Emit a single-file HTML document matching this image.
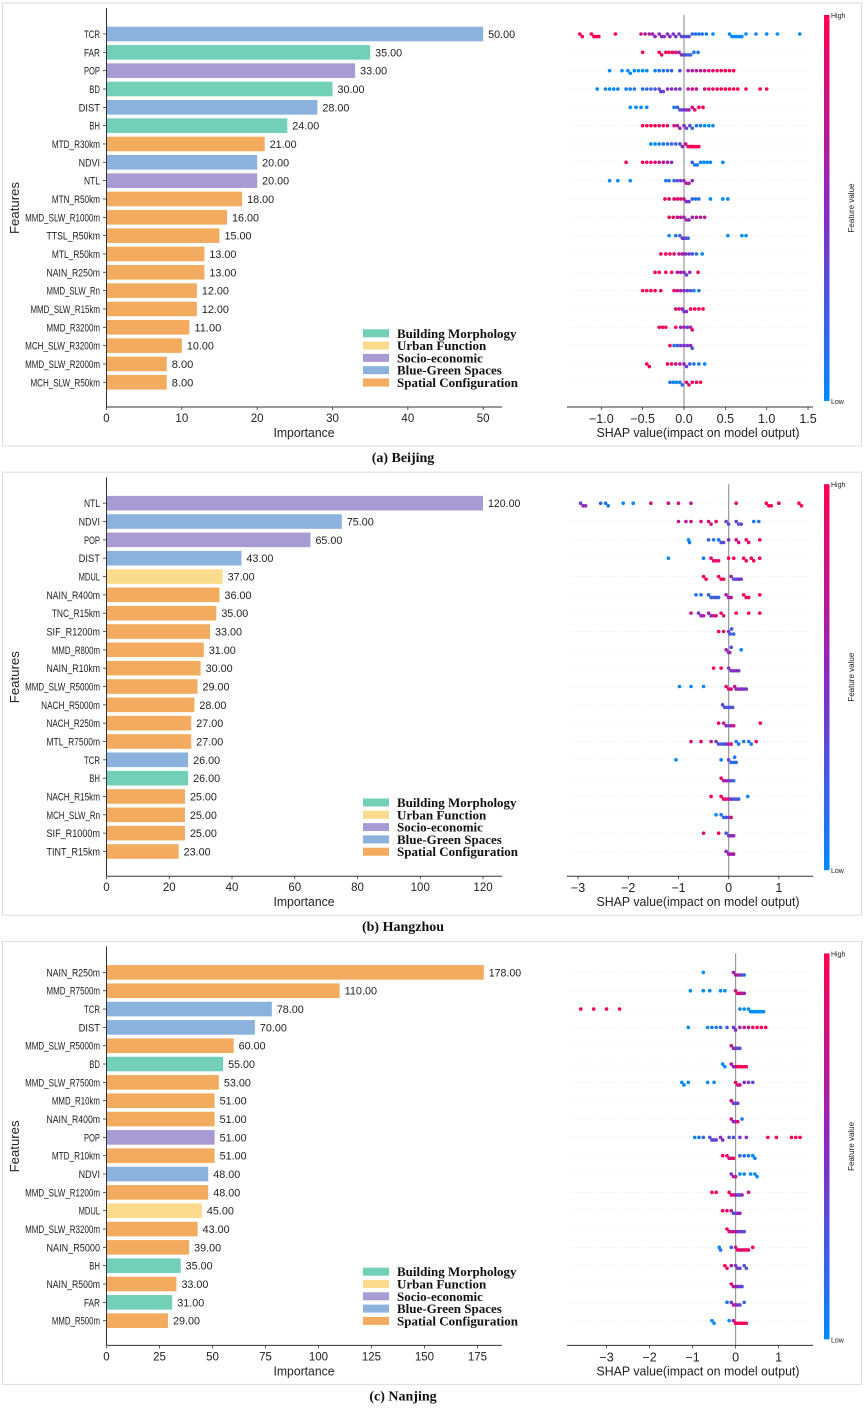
<!DOCTYPE html>
<html><head><meta charset="utf-8">
<style>
html,body{margin:0;padding:0;background:#fff;}
svg{display:block;}
.tk{font-family:"Liberation Sans",sans-serif;fill:#222;}
.cap{font-family:"Liberation Serif",serif;font-weight:bold;font-size:14px;fill:#111;}
.leg{font-family:"Liberation Serif",serif;font-weight:bold;font-size:13px;fill:#111;}
</style></head>
<body>
<svg id="fig" width="865" height="1408" viewBox="0 0 865 1408" xmlns="http://www.w3.org/2000/svg">
<defs>
<linearGradient id="cbar" x1="0" y1="1" x2="0" y2="0">
<stop offset="0" stop-color="rgb(0,138,250)"/>
<stop offset="0.5" stop-color="rgb(138,40,195)"/>
<stop offset="1" stop-color="rgb(255,0,82)"/>
</linearGradient>
</defs>
</svg>
<script>
// ---------- data ----------
const bjFeatures=["TCR","FAR","POP","BD","DIST","BH","MTD_R30km","NDVI","NTL","MTN_R50km","MMD_SLW_R1000m","TTSL_R50km","MTL_R50km","NAIN_R250m","MMD_SLW_Rn","MMD_SLW_R15km","MMD_R3200m","MCH_SLW_R3200m","MMD_SLW_R2000m","MCH_SLW_R50km"];
const bjValues=[50,35,33,30,28,24,21,20,20,18,16,15,13,13,12,12,11,10,8,8];
const bjCats=["G","B","S","B","G","B","P","G","S","P","P","P","P","P","P","P","P","P","P","P"];
const bjShap=[
"-1.26:1 -1.23:1 -1.12:1 -1.09:1 -1.06:1 -1.03:1 -0.83:1 -0.52:.8 -0.47:.7 -0.42:.6 -0.38:.6 -0.35:.5 -0.3:.5 -0.27:.5 -0.24:.5 -0.2:.45 -0.17:.5 -0.13:.45 -0.1:.4 -0.06:.4 -0.03:.35 0:.35 0.03:.3 0.06:.3 0.1:.2 0.14:.15 0.18:.1 0.22:.1 0.27:.05 0.35:0 0.55:0 0.58:0 0.61:0 0.64:0 0.67:0 0.7:0 0.75:0 0.87:0 1.0:0 1.13:0 1.4:0",
"-0.5:1 -0.3:1 -0.27:1 -0.22:1 -0.18:1 -0.14:.9 -0.1:.8 -0.06:.6 -0.03:.5 0:.4 0.02:.3 0.05:.2 0.08:.2 0.12:.1 0.17:.1",
"-0.9:0 -0.75:0 -0.68:0 -0.65:0 -0.6:0 -0.55:0 -0.5:0 -0.45:0 -0.35:.05 -0.3:.1 -0.25:.1 -0.2:.15 -0.15:.2 -0.05:.3 0.05:.6 0.1:.6 0.15:.7 0.2:.75 0.25:.8 0.3:.8 0.35:.9 0.4:.9 0.45:.95 0.5:1 0.55:1 0.6:1",
"-1.05:0 -0.95:0 -0.9:0 -0.85:0 -0.8:.05 -0.7:.05 -0.65:.1 -0.6:.1 -0.5:.15 -0.45:.2 -0.4:.2 -0.35:.25 -0.3:.3 -0.28:.4 -0.25:.4 -0.2:.45 -0.15:.5 -0.1:.5 -0.05:.4 0.05:.7 0.1:.75 0.15:.8 0.25:.85 0.3:.9 0.35:.9 0.4:.95 0.45:1 0.5:1 0.55:1 0.6:1 0.65:1 0.75:1 0.92:1 1.0:1",
"-0.65:0 -0.58:0 -0.52:0 -0.45:0 -0.12:.1 -0.08:.2 -0.05:.3 -0.02:.35 0:.4 0.03:.5 0.06:.6 0.1:.8 0.13:.9 0.18:1 0.23:1",
"-0.5:1 -0.45:1 -0.4:1 -0.35:1 -0.3:1 -0.25:.95 -0.2:.9 -0.12:.8 -0.08:.7 -0.05:.6 0:.5 0.03:.4 0.07:.3 0.1:.2 0.15:.1 0.2:.1 0.25:0 0.3:0 0.35:0",
"-0.4:0 -0.35:0 -0.3:.05 -0.25:.1 -0.2:.1 -0.15:.2 -0.1:.2 -0.05:.3 -0.02:.5 0.02:.8 0.05:.9 0.08:1 0.1:1 0.12:1 0.15:1 0.18:1",
"-0.7:1 -0.5:1 -0.45:.9 -0.4:.9 -0.35:.8 -0.3:.8 -0.25:.7 -0.2:.6 -0.15:.5 0.1:.2 0.13:.1 0.16:.1 0.2:.05 0.24:0 0.28:0 0.32:0 0.47:0",
"-0.9:0 -0.8:0 -0.65:0 -0.22:.1 -0.18:.1 -0.12:.2 -0.08:.3 -0.04:.4 0:.6 0.03:.7 0.06:.6 0.1:.5",
"-0.23:1 -0.18:1 -0.12:.9 -0.08:.9 -0.04:.8 0:.8 0.03:.5 0.06:.4 0.1:.2 0.14:.1 0.18:.1 0.32:0 0.47:0 0.53:0",
"-0.18:1 -0.13:.9 -0.08:.8 -0.04:.7 0:.6 0.03:.6 0.06:.5 0.1:.6 0.15:.7 0.2:.7 0.25:.7",
"-0.18:0 -0.1:.1 -0.05:.2 -0.02:.4 0:.5 0.02:.3 0.05:.2 0.53:0 0.7:0 0.75:0",
"-0.28:1 -0.22:1 -0.17:.9 -0.12:.9 -0.06:.8 -0.02:.6 0.02:.5 0.06:.4 0.1:.3 0.15:.1 0.22:0",
"-0.35:1 -0.3:1 -0.22:1 -0.15:.9 -0.08:.7 -0.04:.6 0:.5 0.03:.4 0.07:.5 0.17:1",
"-0.5:1 -0.45:1 -0.4:1 -0.35:1 -0.28:1 -0.12:.9 -0.08:.8 -0.04:.6 0:.5 0.04:.4 0.08:.3 0.12:.1 0.18:.1",
"-0.1:.9 -0.06:.8 -0.02:.5 0:.4 0.03:.5 0.08:1 0.13:1 0.18:1 0.23:1",
"-0.3:1 -0.26:1 -0.22:1 -0.1:1 -0.04:.6 0:.5 0.04:.4 0.08:.7 0.1:.8",
"-0.17:1 -0.12:.1 -0.08:.2 -0.04:.4 0:.5 0.04:.4 0.08:.5 0.1:.3",
"-0.45:1 -0.42:1 -0.2:1 -0.15:.9 -0.1:.8 -0.05:.7 0:.5 0.03:.4 0.07:.2 0.12:.1 0.18:.1 0.25:0",
"-0.17:.1 -0.13:.1 -0.09:0 -0.05:.1 -0.02:.2 0.03:.8 0.06:.9 0.1:.9 0.15:1 0.2:1"];

const hzFeatures=["NTL","NDVI","POP","DIST","MDUL","NAIN_R400m","TNC_R15km","SIF_R1200m","MMD_R800m","NAIN_R10km","MMD_SLW_R5000m","NACH_R5000m","NACH_R250m","MTL_R7500m","TCR","BH","NACH_R15km","MCH_SLW_Rn","SIF_R1000m","TINT_R15km"];
const hzValues=[120,75,65,43,37,36,35,33,31,30,29,28,27,27,26,26,25,25,25,23];
const hzCats=["S","G","S","G","U","P","P","P","P","P","P","P","P","P","G","B","P","P","P","P"];
const hzShap=[
"-2.95:.4 -2.9:.6 -2.85:.5 -2.55:.2 -2.45:.1 -2.4:.1 -2.1:0 -1.9:0 -1.55:.8 -1.2:.8 -1.0:.8 -0.75:.7 0.15:.9 0.75:1 0.8:1 0.85:1 1.0:1 1.4:1 1.45:1",
"-1:.7 -0.85:.7 -0.75:.7 -0.55:.8 -0.4:.8 -0.35:.8 -0.25:.9 -0.05:.4 0:.3 0.15:.4 0.2:.3 0.25:.4 0.5:.1 0.6:.1",
"-0.8:0 -0.78:.1 -0.4:.2 -0.3:.1 -0.2:.1 -0.15:.3 -0.1:.3 0:.5 0.15:.8 0.2:.8 0.35:.9 0.4:.9 0.62:1",
"-1.2:0 -0.5:.1 -0.35:.9 -0.3:1 -0.25:.9 -0.2:.9 0:1 0.1:1 0.3:1 0.35:1 0.45:1 0.5:1 0.62:1",
"-0.5:1 -0.45:1 -0.2:1 -0.15:.9 -0.1:1 0.05:.6 0.1:.3 0.15:.3 0.2:.5 0.25:.4",
"-0.65:.1 -0.55:.1 -0.4:.2 -0.35:.2 -0.3:.2 -0.25:.3 -0.2:.2 -0.05:.6 0:.6 0.05:.7 0.3:1 0.35:1 0.4:1 0.62:1",
"-0.75:.8 -0.6:.4 -0.55:.5 -0.5:.7 -0.4:.6 -0.35:.5 -0.3:.7 -0.25:.9 -0.15:.9 -0.1:.9 0.15:1 0.4:1 0.62:1",
"-0.2:1 -0.1:.9 0:.4 0.03:.3 0.06:.3 0.1:.2",
"-0.05:.6 0:.5 0.02:.5 0.05:.3 0.25:0",
"-0.3:1 -0.15:.9 0:.5 0.05:.5 0.1:.4 0.15:.6 0.2:.4",
"-0.98:0 -0.75:0 -0.5:0 -0.05:.9 0:.9 0.05:.8 0.12:.7 0.15:.6 0.2:.5 0.25:.5 0.3:.4 0.35:.5",
"-0.12:.3 -0.08:.3 -0.04:.2 0:.3 0.04:.3 0.08:.3",
"-0.2:.9 -0.1:.7 -0.05:.5 0:.4 0.05:.6 0.1:.8 0.63:1",
"-0.75:.8 -0.55:.9 -0.35:.8 -0.25:.4 -0.2:.3 -0.15:.2 -0.1:.3 -0.05:.4 0:.5 0.05:.9 0.15:.1 0.2:.1 0.3:.1 0.4:.1 0.45:.1 0.55:.9",
"-1.05:0 -0.15:0 0:.3 0.05:.2 0.1:.1 0.15:.2 0.12:.1",
"-0.15:.9 -0.1:.7 -0.05:.6 0:.5 0.05:.3 0.1:.2",
"-0.35:1 -0.15:1 -0.1:1 -0.05:.9 0:.7 0.05:.5 0.1:.2 0.15:.3 0.2:.2 0.38:0",
"-0.25:0 -0.15:.1 -0.1:.2 -0.05:.2 0:.4 0.05:.8",
"-0.5:.8 -0.2:1 -0.05:.3 0:.2 0.03:.4 0.07:.8 0.1:.5",
"-0.05:.5 0:.6 0.03:.6 0.07:.7 0.1:.6"];

const njFeatures=["NAIN_R250m","MMD_R7500m","TCR","DIST","MMD_SLW_R5000m","BD","MMD_SLW_R7500m","MMD_R10km","NAIN_R400m","POP","MTD_R10km","NDVI","MMD_SLW_R1200m","MDUL","MMD_SLW_R3200m","NAIN_R5000","BH","NAIN_R500m","FAR","MMD_R500m"];
const njValues=[178,110,78,70,60,55,53,51,51,51,51,48,48,45,43,39,35,33,31,29];
const njCats=["P","P","G","G","P","B","P","P","P","S","P","G","P","U","P","P","B","P","B","P"];
const njShap=[
"-0.75:0 -0.05:.6 0:.6 0.05:.7 0.1:.5 0.15:.3 0.2:.2",
"-1.05:0 -0.75:0 -0.6:0 -0.35:0 -0.25:0 0:.8 0.05:.9 0.1:.8 0.15:.7 0.2:.6",
"-3.6:1 -3.3:1 -3:1 -2.7:1 0.1:0 0.2:0 0.3:0 0.35:0 0.4:0 0.45:0 0.5:0 0.55:0 0.6:0 0.65:0",
"-1.1:0 -0.65:0 -0.55:.1 -0.45:.1 -0.35:.2 -0.2:.2 -0.05:.4 0:.5 0.1:.6 0.2:.7 0.3:.8 0.4:.9 0.5:1 0.6:1 0.7:1",
"-0.1:.7 -0.05:.6 0:.4 0.05:.3 0.1:.3",
"-0.3:0 -0.25:0 -0.1:.7 -0.05:.6 0:.5 0.05:1 0.1:1 0.15:1 0.2:.9 0.25:1",
"-1.25:0 -1.2:0 -1.1:0 -0.65:0 -0.5:0 0:.9 0.05:.8 0.1:.8 0.2:.5 0.3:.4 0.4:.3",
"-0.1:.8 -0.05:.6 0:.3 0.05:.4",
"-0.1:.8 -0.05:.6 0:.5 0.05:.9 0.15:.1",
"-0.95:0 -0.85:.1 -0.75:.2 -0.6:.3 -0.55:.3 -0.5:.4 -0.45:.4 -0.35:.5 -0.3:.5 -0.15:.3 -0.05:.3 0.1:.4 0.25:.5 0.75:1 0.95:1 1.3:1 1.4:1 1.5:1",
"-0.3:1 -0.2:.9 -0.15:.8 -0.1:.7 -0.05:1 0.1:.2 0.2:.1 0.3:.1 0.4:0 0.45:0",
"-0.1:.5 -0.05:.6 0:.8 0.1:0 0.2:0 0.35:0 0.45:0 0.5:0",
"-0.55:1 -0.45:1 -0.15:1 -0.1:.9 -0.05:.8 0:.6 0.05:.4 0.1:.3 0.15:.6 0.3:.8",
"-0.3:1 -0.2:.9 -0.1:.7 -0.05:.4 0:.3 0.05:.5 0.1:.6",
"-0.2:1 -0.15:.9 -0.1:.7 -0.05:.8 0:.6 0.05:.5 0.1:.4 0.15:.4 0.2:.3",
"-0.38:0 -0.35:.1 -0.1:.2 0:.8 0.05:.9 0.1:.9 0.15:.9 0.2:.8 0.25:1 0.3:.9 0.4:1",
"-0.25:1 -0.2:.9 -0.1:.7 0:.4 0.05:.5 0.1:.3 0.2:.3 0.25:.3",
"-0.1:.8 -0.05:.7 0:.6 0.05:.5 0.1:.4 0.15:.3",
"-0.2:.1 -0.1:.4 -0.05:.6 0:.7 0.05:.5 0.1:.3 0.2:.2",
"-0.55:0 -0.5:0 -0.15:0 -0.05:.7 0:.9 0.05:.9 0.1:1 0.15:1 0.2:1 0.25:.9"];

const bjBarTicks=[0,10,20,30,40,50];
const hzBarTicks=[0,20,40,60,80,100,120];
const njBarTicks=[0,25,50,75,100,125,150,175];
const bjShapTicks=["-1.0","-0.5","0.0","0.5","1.0","1.5"];
const hzShapTicks=["-3","-2","-1","0","1"];
const njShapTicks=["-3","-2","-1","0","1"];
const captions=["(a) Beijing","(b) Hangzhou","(c) Nanjing"];
const legendNames=["Building Morphology","Urban Function","Socio-economic","Blue-Green Spaces","Spatial Configuration"];

// ---------- drawing ----------
const svg=document.getElementById('fig');
const NS='http://www.w3.org/2000/svg';
const catColor={B:'#72cfb8',U:'#fcdc8c',S:'#a99ad3',G:'#8ab2dd',P:'#f2ab5f'};
const legCats=['B','U','S','G','P'];
function mk(tag,attrs,parent){const e=document.createElementNS(NS,tag);for(const k in attrs)e.setAttribute(k,attrs[k]);(parent||svg).appendChild(e);return e;}
function shapColor(c){
  const b=[0,138,250],m=[138,40,195],r=[255,0,82];let a,z,t;
  if(c<0.5){a=b;z=m;t=c/0.5;}else{a=m;z=r;t=(c-0.5)/0.5;}
  return 'rgb('+a.map((v,i)=>Math.round(v+(z[i]-v)*t)).join(',')+')';
}
const panels=[
 {f:bjFeatures,v:bjValues,c:bjCats,s:bjShap,bt:bjBarTicks,bmax:52.5,st:bjShapTicks,smin:-1.415,smax:1.56},
 {f:hzFeatures,v:hzValues,c:hzCats,s:hzShap,bt:hzBarTicks,bmax:126.05,st:hzShapTicks,smin:-3.22,smax:1.68},
 {f:njFeatures,v:njValues,c:njCats,s:njShap,bt:njBarTicks,bmax:186.6,st:njShapTicks,smin:-3.92,smax:1.8}
];
panels.forEach((p,pi)=>{
  const oy=pi*469.2;
  const g=mk('g',{transform:'translate(0,'+oy+')'});
  
  
  const box=mk('rect',{x:2.5,y:3,width:859,height:443,fill:'none',stroke:'#dcdcdc','stroke-width':1},g);
  
  
  const X0=106.5,X1=502,AY=407;
  const bx=v=>X0+(v/p.bmax)*(X1-X0);
  const rowY=i=>34+i*18.33;
  p.v.forEach((val,i)=>{
    const y=rowY(i);
    const r=mk('rect',{x:X0,y:y-7.3,width:bx(val)-X0,height:14.6,fill:catColor[p.c[i]]},g);
    
    
    const t=mk('text',{x:bx(val)+5,y:y+4,class:'tk',style:'font-size:11px',textLength:val.toFixed(2).length*5.4,lengthAdjust:'spacingAndGlyphs'},g);
    t.textContent=val.toFixed(2);
    
    
    const l=mk('text',{x:100,y:y+4,class:'tk',style:'font-size:11px','text-anchor':'end',textLength:p.f[i].length*5.35,lengthAdjust:'spacingAndGlyphs'},g);
    l.textContent=p.f[i];
    
    
    mk('line',{x1:103,x2:106.5,y1:y,y2:y,stroke:'#333','stroke-width':0.8},g);
  });
  mk('line',{x1:X0,x2:X0,y1:8,y2:AY,stroke:'#333','stroke-width':1},g);
  mk('line',{x1:X0,x2:X1,y1:AY,y2:AY,stroke:'#333','stroke-width':1},g);
  p.bt.forEach(v=>{
    mk('line',{x1:bx(v),x2:bx(v),y1:AY,y2:AY+3,stroke:'#333','stroke-width':0.8},g);
    const t=mk('text',{x:bx(v),y:AY+15,class:'tk',style:'font-size:11.5px','text-anchor':'middle'},g);
    t.textContent=String(v);
    
    
  });
  const xt=mk('text',{x:304,y:AY+30,class:'tk',style:'font-size:13px','text-anchor':'middle',textLength:61,lengthAdjust:'spacingAndGlyphs'},g);
  xt.textContent='Importance';
  
  
  const yt=mk('text',{x:0,y:0,class:'tk',style:'font-size:13px','text-anchor':'middle',transform:'translate(19,208) rotate(-90)',textLength:52,lengthAdjust:'spacingAndGlyphs'},g);
  yt.textContent='Features';
  
  
  const lg=mk('g',{},g);
  
  
  legCats.forEach((c,k)=>{
    const y=333.3+k*12.3;
    const sw=mk('rect',{x:363,y:y-4,width:26,height:8,fill:catColor[c]},lg);
    
    
    const t=mk('text',{x:397,y:y+4.5,class:'leg'},lg);
    t.textContent=legendNames[k];
    
    
  });
  const S0=567,S1=813;
  const sx=v=>S0+(v-p.smin)/(p.smax-p.smin)*(S1-S0);
  p.f.forEach((f,i)=>{mk('line',{x1:S0+3,x2:S1-5,y1:rowY(i),y2:rowY(i),stroke:'#e6e6e6','stroke-width':0.7,'stroke-dasharray':'1,2'},g);});
  mk('line',{x1:sx(0),x2:sx(0),y1:15,y2:AY,stroke:'#999','stroke-width':1.2},g);
  mk('line',{x1:S0,x2:S1,y1:AY,y2:AY,stroke:'#333','stroke-width':1},g);
  p.st.forEach(s=>{
    const v=parseFloat(s);
    mk('line',{x1:sx(v),x2:sx(v),y1:AY,y2:AY+3,stroke:'#333','stroke-width':0.8},g);
    const t=mk('text',{x:sx(v),y:AY+16,class:'tk',style:'font-size:12.5px','text-anchor':'middle'},g);
    t.textContent=s.replace('-','\u2212');
    
    
  });
  const st=mk('text',{x:698,y:AY+30,class:'tk',style:'font-size:12.5px','text-anchor':'middle',textLength:203,lengthAdjust:'spacingAndGlyphs'},g);
  st.textContent='SHAP value(impact on model output)';
  
  
  p.s.forEach((row,i)=>{
    const pts=row.trim().split(/\s+/).map(s=>s.split(':').map(Number));
    const placed=[];
    pts.forEach(([v,c])=>{
      const x=sx(v);
      const k=placed.filter(q=>Math.abs(q-x)<3.2).length;
      placed.push(x);
      const off=(k%2?1:-1)*Math.ceil(k/2)*2.6;
      const d=mk('circle',{cx:x,cy:rowY(i)+off,r:1.8,fill:shapColor(c)},g);
      
      
    });
  });
  const cb=mk('rect',{x:824,y:15,width:5.5,height:386,fill:'url(#cbar)'},g);
  
  
  const hi=mk('text',{x:831,y:18,class:'tk',style:'font-size:7px'},g);hi.textContent='High';
  
  
  const lo=mk('text',{x:831,y:404,class:'tk',style:'font-size:7px'},g);lo.textContent='Low';
  
  
  const fv=mk('text',{x:0,y:0,class:'tk',style:'font-size:8px','text-anchor':'middle',transform:'translate(854,208) rotate(-90)'},g);
  fv.textContent='Feature value';
  
  
  const cap=mk('text',{x:403,y:462,class:'cap','text-anchor':'middle'},g);
  cap.textContent=captions[pi];
  
  
});
</script>
</body></html>
